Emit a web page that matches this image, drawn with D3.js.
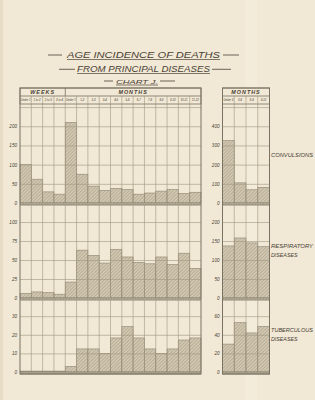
<!DOCTYPE html>
<html><head><meta charset="utf-8">
<script src="https://cdn.jsdelivr.net/npm/d3@7"></script>
<style>
html,body{margin:0;padding:0;background:#f1e8d5;}
svg{display:block;}
text{font-family:"Liberation Sans",Arial,sans-serif;font-style:italic;fill:#4a4236;}
</style></head><body>
<script>
// ---- data ----
const weekCats = ["Under 1", "1 to 2", "2 to 3", "3 to 4"];
const monthCats = ["Under 1", "1-2", "2-3", "3-4", "4-5", "5-6", "6-7", "7-8", "8-9", "9-10", "10-11", "11-12"];
const quarterCats = ["Under 3", "3-6", "6-9", "9-12"];
const convulsions = [100, 62, 29, 23, 210, 75, 44, 33, 38, 35, 23, 26, 31, 35, 25, 28];
const respiratory = [6, 8, 7, 5, 21, 63, 56, 46, 64, 54, 47, 45, 54, 44, 59, 39];
const tuberculous = [0.5, 0.5, 0.5, 0.5, 3, 12.4, 12.4, 10, 18.3, 24.4, 18.3, 12.4, 10, 12.4, 17.2, 18.3];
const convulsionsQ = [325, 105, 69, 82];
const respiratoryQ = [137, 158, 145, 135];
const tuberculousQ = [30, 53, 42, 49];
const convTicks = [0, 50, 100, 150, 200];
const respTicks = [0, 25, 50, 75, 100];
const tubTicks = [0, 10, 20, 30];
const convTicksQ = [0, 100, 200, 300, 400];
const respTicksQ = [0, 50, 100, 150, 200];
const tubTicksQ = [0, 20, 40, 60];
const diseaseLabels = [["CONVULSIONS"], ["RESPIRATORY", "DISEASES"], ["TUBERCULOUS", "DISEASES"]];
const titleLines = ["AGE INCIDENCE OF DEATHS", "FROM PRINCIPAL DISEASES", "CHART J."];

// ---- layout ----
const W = 315, H = 400;
const svg = d3.select("body").append("svg").attr("width", W).attr("height", H);
const defs = svg.append("defs");
const pat = defs.append("pattern").attr("id", "hatch").attr("patternUnits", "userSpaceOnUse")
  .attr("width", 2.4).attr("height", 2.4).attr("patternTransform", "rotate(45)");
pat.append("rect").attr("width", 2.4).attr("height", 2.4).attr("fill", "#d6ccb6");
pat.append("line").attr("x1", 0.6).attr("y1", 0).attr("x2", 0.6).attr("y2", 2.4).attr("stroke", "#9e947f").attr("stroke-width", 0.6);
const pat2 = defs.append("pattern").attr("id", "xhatch").attr("patternUnits", "userSpaceOnUse")
  .attr("width", 1.6).attr("height", 1.6);
pat2.append("rect").attr("width", 1.6).attr("height", 1.6).attr("fill", "#b8ae99");
pat2.append("rect").attr("width", 0.8).attr("height", 0.8).attr("fill", "#d6ccb6");

svg.append("rect").attr("width", W).attr("height", H).attr("fill", "#f1e8d5");
svg.append("rect").attr("x", 245).attr("y", 0).attr("width", 12).attr("height", H).attr("fill", "#f6efe0").attr("opacity", 0.6);
svg.append("rect").attr("x", 0).attr("y", 0).attr("width", 3).attr("height", H).attr("fill", "#e7dcc5");

const gridC = "#a0977f", borderC = "#7a7262";

// title
const titleSpec = [
  {y: 58, size: 8.8, x0: 67, x1: 220, d: [[48, 62], [223, 239]], dy: 55, uy: 59.5},
  {y: 72, size: 8.8, x0: 77, x1: 210, d: [[59, 75], [212, 231]], dy: 69.3, uy: 73.5},
  {y: 83.5, size: 6, x0: 116, x1: 158, d: [[104, 113], [160, 175]], dy: 81, uy: 85}
];
titleLines.forEach((t, i) => {
  const s = titleSpec[i];
  svg.append("text").attr("x", s.x0).attr("y", s.y).attr("font-size", s.size)
    .attr("textLength", s.x1 - s.x0).attr("lengthAdjust", "spacingAndGlyphs").text(t);
  svg.append("line").attr("x1", s.x0).attr("x2", s.x1).attr("y1", s.uy).attr("y2", s.uy)
    .attr("stroke", "#4a4236").attr("stroke-width", 0.7);
  s.d.forEach(dd => svg.append("line").attr("x1", dd[0]).attr("x2", dd[1]).attr("y1", s.dy).attr("y2", s.dy)
    .attr("stroke", "#4a4236").attr("stroke-width", 0.8));
});

const allCats = weekCats.map(c => "w" + c).concat(monthCats.map(c => "m" + c));
const subLabels = weekCats.concat(monthCats);
const xMain = d3.scaleBand().domain(allCats).range([20, 201]).padding(0);
const xQ = d3.scaleBand().domain(quarterCats).range([222.5, 269.5]).padding(0);

const hdrTop = 88, hdrMid = 96, hdrBot = 104;
const panels = [
  {top: hdrBot, zero: 203, bot: 205, main: convulsions, mainMax: 258, mainTicks: convTicks, q: convulsionsQ, qMax: 516, qTicks: convTicksQ},
  {top: 205, zero: 298, bot: 300, main: respiratory, mainMax: 122.4, mainTicks: respTicks, q: respiratoryQ, qMax: 244.8, qTicks: respTicksQ},
  {top: 300, zero: 372, bot: 374, main: tuberculous, mainMax: 38.7, mainTicks: tubTicks, q: tuberculousQ, qMax: 77.4, qTicks: tubTicksQ}
];

function drawBlock(x, cats, vals, p, max, ticks) {
  const g = svg.append("g");
  const y = d3.scaleLinear().domain([0, max]).range([p.zero, p.top]);
  const [xa, xb] = x.range();
  g.selectAll("rect.bar").data(vals).join("rect").attr("class", "bar")
    .attr("x", (d, i) => x(cats[i])).attr("width", x.bandwidth())
    .attr("y", d => y(d)).attr("height", d => y(0) - y(d))
    .attr("fill", "url(#hatch)").attr("stroke", "#8d8471").attr("stroke-width", 0.6);
  const gridVals = d3.range(ticks[1] - ticks[0], max, ticks[1] - ticks[0]);
  const ax = g.append("g").attr("transform", `translate(${xa},0)`)
    .call(d3.axisLeft(y).tickValues(gridVals).tickSize(-(xb - xa)).tickFormat(""));
  ax.select(".domain").remove();
  ax.selectAll("line").attr("stroke", gridC).attr("stroke-width", 0.6);
  const lab = g.append("g").attr("transform", `translate(${xa},0)`)
    .call(d3.axisLeft(y).tickValues(ticks).tickSize(0).tickPadding(3).tickFormat(d3.format("d")));
  lab.select(".domain").remove();
  lab.selectAll("text").attr("font-size", 4.6).attr("font-family", "Liberation Sans").attr("font-style", "italic").attr("fill", "#4a4236");
  g.selectAll("line.col").data(cats.slice(1)).join("line").attr("class", "col")
    .attr("x1", d => x(d)).attr("x2", d => x(d)).attr("y1", p.top).attr("y2", p.bot)
    .attr("stroke", gridC).attr("stroke-width", 0.6);
  g.append("rect").attr("x", xa).attr("width", xb - xa).attr("y", p.zero).attr("height", p.bot - p.zero)
    .attr("fill", "url(#xhatch)");
  g.append("line").attr("x1", xa).attr("x2", xb).attr("y1", p.zero).attr("y2", p.zero).attr("stroke", borderC).attr("stroke-width", 0.6);
  g.append("line").attr("x1", xa).attr("x2", xb).attr("y1", p.bot).attr("y2", p.bot).attr("stroke", borderC).attr("stroke-width", 0.8);
}

panels.forEach((p, i) => {
  drawBlock(xMain, allCats, p.main, p, p.mainMax, p.mainTicks);
  drawBlock(xQ, quarterCats, p.q, p, p.qMax, p.qTicks);
  const ly = [157, 248, 332][i];
  diseaseLabels[i].forEach((t, j) => {
    svg.append("text").attr("x", 271).attr("y", ly + j * 9).attr("font-size", 5.3)
      .attr("textLength", t.length > 9 ? 42 : null).attr("lengthAdjust", "spacingAndGlyphs").text(t);
  });
});

function header(x, groups, cats, labels) {
  const [xa, xb] = x.range();
  const g = svg.append("g");
  g.append("rect").attr("x", xa).attr("y", hdrTop).attr("width", xb - xa).attr("height", hdrBot - hdrTop)
    .attr("fill", "#f1e8d5").attr("stroke", borderC).attr("stroke-width", 0.8);
  g.append("line").attr("x1", xa).attr("x2", xb).attr("y1", hdrMid).attr("y2", hdrMid).attr("stroke", borderC).attr("stroke-width", 0.8);
  groups.forEach(gr => {
    const gx0 = x(gr.from), gx1 = x(gr.to) + x.bandwidth();
    if (gx0 > xa) g.append("line").attr("x1", gx0).attr("x2", gx0).attr("y1", hdrTop).attr("y2", hdrMid).attr("stroke", borderC).attr("stroke-width", 0.8);
    g.append("text").attr("x", (gx0 + gx1) / 2).attr("y", hdrMid - 2).attr("text-anchor", "middle")
      .attr("font-size", 5.4).attr("font-weight", "bold").attr("letter-spacing", 1).text(gr.name);
  });
  g.selectAll("line.sub").data(cats.slice(1)).join("line").attr("class", "sub")
    .attr("x1", d => x(d)).attr("x2", d => x(d)).attr("y1", hdrMid).attr("y2", hdrBot)
    .attr("stroke", gridC).attr("stroke-width", 0.6);
  g.selectAll("text.sub").data(cats).join("text").attr("class", "sub")
    .attr("x", d => x(d) + x.bandwidth() / 2).attr("y", hdrBot - 2.6).attr("text-anchor", "middle")
    .attr("font-size", 2.8).text((d, i) => labels[i]);
}
header(xMain, [{name: "WEEKS", from: allCats[0], to: allCats[3]}, {name: "MONTHS", from: allCats[4], to: allCats[15]}], allCats, subLabels);
header(xQ, [{name: "MONTHS", from: quarterCats[0], to: quarterCats[3]}], quarterCats, quarterCats);

[[20, 201], [222.5, 269.5]].forEach(([a, b]) => {
  svg.append("rect").attr("x", a).attr("y", hdrTop).attr("width", b - a).attr("height", 374 - hdrTop)
    .attr("fill", "none").attr("stroke", borderC).attr("stroke-width", 1);
});
</script>
</body></html>
